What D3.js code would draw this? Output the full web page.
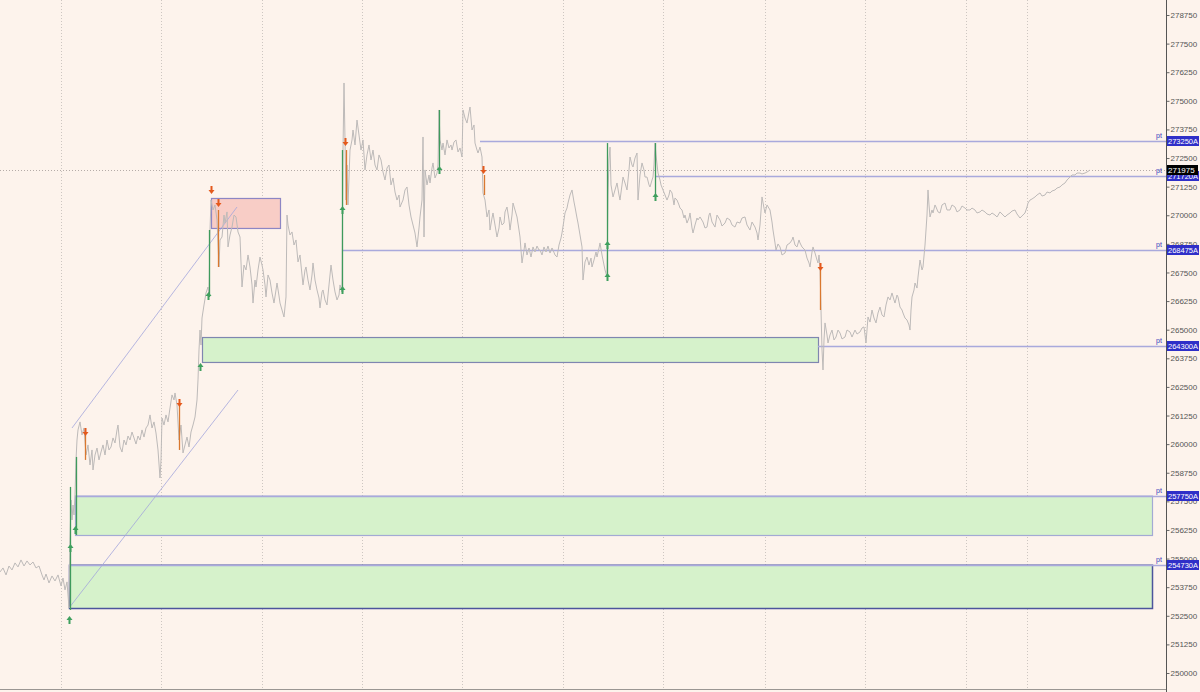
<!DOCTYPE html>
<html>
<head>
<meta charset="utf-8">
<script src="https://cdn.jsdelivr.net/npm/d3@7"></script>
<style>
  html, body { margin: 0; padding: 0; background: #fdf3ec; }
  svg { display: block; }
</style>
</head>
<body>
<div id="chart"></div>
<script>
// bar number, close
const priceSeries = [
  [0,254415],[3,254590],[6,254285],[9,254675],[12,254502],[15,254810],[18,254635],[21,254940],[24,254675],[27,254895],
  [30,254720],[33,254850],[36,254590],[39,254675],[42,254285],[44,254065],[46,254325],[49,253935],[52,254240],[55,254020],
  [58,254285],[61,253805],[63,254150],[65,253630],[67,253980],[69,252840],
  [70,255810],[71,257560],[72,256685],[73,257340],[74,256905],[75,257780],[76,259310],[77,260180],[78,260620],[80,260970],
  [82,260400],[84,260705],[86,259525],[88,259965],[90,259090],[92,259745],[93,258870],[95,259525],[97,259830],[99,259310],
  [101,259655],[103,259965],[105,259525],[107,260180],[109,259745],[111,259875],[113,260270],[115,260050],[117,260620],[118,260835],
  [120,259875],[122,259655],[124,260180],[126,259965],[128,260355],[130,260180],[132,260530],[134,260270],[136,260005],[138,260355],
  [140,260180],[142,260620],[144,260310],[146,260705],[148,260835],[150,261275],[152,260705],[154,260970],[156,260485],[158,259745],
  [160,258520],[161,259310],[162,261140],[164,260835],[166,261275],[168,260970],[170,261580],[172,262150],[174,261930],[175,262235],
  [177,261710],[179,260180],[181,260835],[183,259615],[185,259965],[187,260310],[189,259875],[191,260530],[193,260835],[195,261185],
  [197,261930],[198,262805],[199,264115],[200,264985],[201,264330],[202,265510],[204,266080],[206,266605],[208,266865],[209,266430],
  [210,269355],[211,270665],[213,270230],[215,270450],[217,269795],[219,267740],[220,268920],[222,269050],[224,270010],[225,269660],
  [227,270145],[228,268615],[230,269140],[232,269485],[234,270010],[236,269925],[238,269270],[240,269050],[242,266865],[244,267825],
  [246,267610],[248,268265],[250,267740],[252,266955],[253,266165],[255,267170],[256,266865],[258,267610],[260,268175],[262,267825],
  [263,267610],[265,266955],[266,266430],[268,267390],[270,267170],[272,266605],[274,266165],[276,266735],[277,267040],[279,266475],
  [280,266165],[282,265860],[284,265555],[286,266430],[287,270010],[288,269575],[290,269140],[292,269270],[294,268700],[296,268920],
  [298,267960],[300,268265],[302,267390],[303,266955],[305,267610],[306,267740],[308,267170],[310,266735],[312,267390],[313,267915],
  [315,267170],[317,266735],[319,266385],[320,265950],[322,266650],[323,266735],[325,266300],[327,266080],[329,266955],[331,267825],
  [333,267170],[335,266650],[337,266300],[339,266515],[340,266955],[342,266650],
  [343,272850],[344,275780],[345,273290],[346,270665],[347,272195],[348,270450],[350,272850],[352,273290],[353,273725],[355,273070],
  [357,274160],[359,273505],[361,272850],[363,273290],[365,271980],[367,272635],[369,273070],[371,272415],[373,272850],[375,272195],
  [377,271980],[379,272635],[381,272415],[383,271890],[385,271540],[387,272065],[389,272195],[391,271325],[393,271630],[395,271015],
  [397,270665],[399,270885],[400,270360],[403,270665],[405,271105],[407,271235],[409,270450],[411,269925],[413,269575],[415,269225],
  [417,268615],[419,269445],[420,269925],[422,270665],[423,273420],[424,269050],[425,271980],[427,271325],[429,271760],[430,271410],
  [432,272065],[433,272285],[435,271630],[437,271845],[438,272195],[439,274600],[440,273290],[442,272850],[443,273155],[445,272635],
  [447,273290],[449,272940],[451,273070],[452,272850],[454,273200],[456,273290],[458,272765],[460,272940],[462,272545],[463,274600],
  [465,274250],[467,274030],[469,274510],[470,274730],[472,273725],[474,273945],[475,273155],[477,272850],[478,272720],[480,272980],
  [482,272545],[483,270975],[485,270665],[487,269925],[489,270230],[490,269355],[492,269880],[493,270100],[495,269575],[497,269050],
  [499,269445],[500,269925],[502,269575],[504,269660],[505,270145],[507,270360],[509,269795],[510,269355],[512,270010],[513,270535],
  [515,270230],[517,269925],[519,269355],[520,269050],[521,268480],[522,267915],[524,268480],[525,268790],[527,268265],[529,268570],
  [531,268175],[533,268615],[535,268395],[537,268655],[539,268480],[540,268480],[542,268265],[544,268615],[546,268395],[548,268655],
  [550,268350],[552,268570],[553,268480],[555,268265],[557,268175],[559,268700],[561,269005],[562,269225],[564,269795],[565,270100],
  [567,270315],[568,270535],[570,270885],[572,271105],[574,270580],[575,270360],[577,269880],[578,269660],[580,269140],[582,268615],
  [583,267170],[585,267960],[587,268175],[589,267825],[591,268130],[592,267740],[594,268045],[596,268395],[597,268175],[599,268570],
  [600,268790],[602,268265],[603,268045],[605,267610],[607,267300],[608,270885],[609,272415],[610,272980],[611,271325],[613,270800],
  [615,271105],[617,271410],[619,270885],[620,270665],[622,271325],[623,271670],[625,271410],[627,271105],[629,271980],[630,272545],
  [632,272195],[633,272110],[635,272500],[637,272720],[638,270665],[640,271760],[642,272285],[644,271980],[645,271670],[647,271670],
  [649,271325],[650,271235],[652,271540],[653,271670],[654,272195],[655,273155],[656,272635],[658,271845],[660,271540],[661,271325],
  [663,271105],[665,270885],[667,270665],[669,270885],[670,271105],[672,270975],[674,270450],[675,270755],[677,270665],[679,270450],
  [680,270315],[682,270230],[684,269880],[685,270010],[687,269660],[689,269880],[690,270100],[692,269445],[693,269225],[695,269575],
  [697,269880],[698,269795],[700,269925],[703,269705],[705,269445],[707,269485],[709,270010],[710,270100],[712,269705],[715,269485],
  [717,270010],[720,269795],[722,269530],[725,269660],[727,269880],[730,269795],[732,269575],[735,269485],[737,269705],[740,269660],
  [742,269880],[745,269925],[747,269575],[750,269355],[752,269705],[755,269485],[757,269225],[758,268920],[760,269575],[762,270800],
  [764,270315],[765,270100],[767,270450],[770,270230],[772,269705],[773,269355],[775,268790],[776,268480],[778,268745],[780,268615],
  [782,268265],[785,268350],[787,268700],[790,268790],[792,268920],[793,269050],[795,268700],[797,268615],[799,268920],[800,268790],
  [802,268615],[805,268480],[807,268130],[809,267915],[810,267740],[812,268395],[813,268615],[815,268350],[817,268045],[818,267915],
  [819,268265],[820,267740],[821,265860],[822,264115],[823,263240],[824,264550],[825,265295],[827,264770],[828,264420],[830,264770],
  [832,264985],[834,264550],[836,264680],[838,264985],[840,264855],[842,264595],[845,264680],[847,264985],[850,264900],[852,264680],
  [855,264985],[857,264810],[860,264900],[862,265075],[864,265120],[866,264420],[868,265555],[870,265335],[872,265860],[874,265510],
  [876,265295],[878,265730],[880,265990],[882,265645],[884,265555],[886,266080],[888,266430],[890,266300],[892,266605],[894,266300],
  [895,266165],[897,266515],[898,266430],[900,265990],[902,265860],[903,265730],[905,265510],[907,265425],[909,265205],[910,264985],
  [911,265860],[912,266430],[914,266735],[915,267040],[917,266820],[918,267300],[920,268045],[922,267610],[923,267740],[925,268700],
  [926,269355],[927,270010],[928,271105],[929,270450],[930,269925],[932,270230],[933,270100],[935,270450],[936,270360],[938,270145],
  [940,270100],[942,270450],[945,270535],[947,270230],[950,270230],[952,270450],[955,270360],[957,270145],[960,270230],[962,270405],
  [965,270315],[967,270230],[970,270230],[972,270315],[975,270230],[977,270100],[980,270145],[982,270230],[985,270145],[987,270055],
  [990,270010],[992,270100],[995,270010],[997,269925],[1000,270145],[1002,270055],[1005,269925],[1007,270010],[1010,270100],[1012,270185],
  [1015,270230],[1017,270055],[1020,269880],[1022,269970],[1025,270100],[1027,270360],[1028,270535],[1030,270665],[1032,270710],[1035,270800],
  [1037,270885],[1040,270975],[1042,270840],[1045,270885],[1047,271015],[1050,270975],[1052,271060],[1055,271105],[1057,271190],[1060,271235],
  [1062,271325],[1065,271410],[1067,271540],[1070,271670],[1072,271760],[1075,271760],[1077,271845],[1080,271845],[1082,271805],[1085,271845],
  [1087,271890],[1090,271975]
];

const lastPrice = 271975;
const yTicks = [250000,251250,252500,253750,255000,256250,257500,258750,260000,261250,262500,263750,
  265000,266250,267500,268750,270000,271250,272500,273750,275000,276250,277500,278750];
const sessionBars = [61,161,262,362,462,563,663,765,865,966,1027];

// horizontal levels
const levelPrices = [273250, 271720, 268475, 264300, 257750, 254730];
const levelStart  = [480, 655, 342, 818, 75, 69];
const levelLabels = ["273250A", "271720A", "268475A", "264300A", "257750A", "254730A"];

// zones: [startBar, endBar, top, bottom]
const demandZones = [[202, 818, 264680, 263590], [75, 1152, 257750, 256030], [69, 1152, 254730, 252840]];
const supplyZones = [[211, 280, 270755, 269445]];

// trend lines: [bar1, price1, bar2, price2]
const trendLines = [[69, 252840, 238, 262365], [72, 260705, 237, 270360]];

// signals
const buyArrows  = [[69,252320],[70,255460],[75,256250],[200,263370],[208,266475],[342,266735],[342,270230],[439,271980],[607,268700],[607,267300],[655,270800]];
const sellArrows = [[85,260530],[179,261800],[211,271105],[218,270535],[345,273200],[483,271980],[820,267740]];
const buyMoves  = [[70,252755,258130],[76,256030,259440],[209,266430,269355],[342,266650,272850],[439,272110,274600],[607,267300,273155],[655,270800,273155]];
const sellMoves = [[85,260400,259310],[179,261710,259745],[218,270230,267740],[346,272850,270450],[484,271760,270885],[820,267610,265860]];

const W = 1200, H = 692, axisX = 1166, bottomY = 689;
const labelFont = "Liberation Sans, Arial, sans-serif";

const svg = d3.select("#chart").append("svg")
    .attr("width", W).attr("height", H)
    .style("background", "#fdf3ec");

let x = d3.scaleLinear().domain([0, 1166]).range([0, axisX]);
let y = d3.scaleLinear().domain([250000, 278750]).range([673, 15]);

// session gridlines
svg.append("g").selectAll("line")
    .data(sessionBars)
    .enter().append("line")
    .attr("x1", d => x(d) + 0.5).attr("x2", d => x(d) + 0.5)
    .attr("y1", 0).attr("y2", bottomY)
    .attr("stroke", "#cdc6c1")
    .attr("stroke-width", 1)
    .attr("stroke-dasharray", "1,2");

// zones
svg.append("g").selectAll("rect")
    .data(demandZones)
    .enter().append("rect")
    .attr("x", d => x(d[0]) + 0.5)
    .attr("y", d => y(d[2]) + 0.5)
    .attr("width", d => x(d[1]) - x(d[0]))
    .attr("height", d => y(d[3]) - y(d[2]))
    .attr("fill", "#d6f2cb")
    .attr("stroke", (d, i) => ["#7f86b0", "#a3aad4", "#4c559c"][i])
    .attr("stroke-width", (d, i) => i == 2 ? 1.5 : 1.2);

svg.append("g").selectAll("rect")
    .data(supplyZones)
    .enter().append("rect")
    .attr("x", d => x(d[0]) + 0.5)
    .attr("y", d => y(d[2]) + 0.5)
    .attr("width", d => x(d[1]) - x(d[0]))
    .attr("height", d => y(d[3]) - y(d[2]))
    .attr("fill", "#f8cdc6")
    .attr("stroke", "#8d86c4")
    .attr("stroke-width", 1.2);

// level lines
svg.append("g").selectAll("line")
    .data(levelPrices)
    .enter().append("line")
    .attr("x1", (d, i) => x(levelStart[i]))
    .attr("x2", axisX)
    .attr("y1", d => Math.round(y(d)) + 0.5)
    .attr("y2", d => Math.round(y(d)) + 0.5)
    .attr("stroke", "#a9a9dc")
    .attr("stroke-width", 1.5);

// trend lines
svg.append("g").selectAll("line")
    .data(trendLines)
    .enter().append("line")
    .attr("x1", d => x(d[0])).attr("y1", d => y(d[1]))
    .attr("x2", d => x(d[2])).attr("y2", d => y(d[3]))
    .attr("stroke", "#a3a6dc")
    .attr("stroke-width", 0.8);

// last price dotted line
svg.append("line")
    .attr("x1", 0).attr("x2", axisX)
    .attr("y1", Math.round(y(lastPrice)) + 0.5)
    .attr("y2", Math.round(y(lastPrice)) + 0.5)
    .attr("stroke", "#b5aca8")
    .attr("stroke-dasharray", "1,2");

// price line
let line = d3.line()
    .x(d => x(d[0]))
    .y(d => y(d[1]));

svg.append("path")
    .datum(priceSeries)
    .attr("fill", "none")
    .attr("stroke", "#bdbab9")
    .attr("stroke-width", 1)
    .attr("d", line);

// signal moves
svg.append("g").selectAll("line")
    .data(buyMoves)
    .enter().append("line")
    .attr("x1", d => x(d[0]) + 0.5).attr("x2", d => x(d[0]) + 0.5)
    .attr("y1", d => y(d[1])).attr("y2", d => y(d[2]))
    .attr("stroke", "#3e9a5c")
    .attr("stroke-width", 1.3);

svg.append("g").selectAll("line")
    .data(sellMoves)
    .enter().append("line")
    .attr("x1", d => x(d[0]) + 0.5).attr("x2", d => x(d[0]) + 0.5)
    .attr("y1", d => y(d[1])).attr("y2", d => y(d[2]))
    .attr("stroke", "#d9782f")
    .attr("stroke-width", 1.3);

function upArrow(cx, cy) {
    return `M${cx-1},${cy+4} L${cx-1},${cy} L${cx-3},${cy} L${cx},${cy-4} L${cx+3},${cy} L${cx+1},${cy} L${cx+1},${cy+4} Z`;
}
function downArrow(cx, cy) {
    return `M${cx-1},${cy-4} L${cx-1},${cy} L${cx-3},${cy} L${cx},${cy+4} L${cx+3},${cy} L${cx+1},${cy} L${cx+1},${cy-4} Z`;
}

svg.append("g").selectAll("path")
    .data(buyArrows)
    .enter().append("path")
    .attr("d", d => upArrow(x(d[0]) + 0.5, y(d[1])))
    .attr("fill", "#3fa05e");

svg.append("g").selectAll("path")
    .data(sellArrows)
    .enter().append("path")
    .attr("d", d => downArrow(x(d[0]) + 0.5, y(d[1])))
    .attr("fill", "#e4591c");

// bottom border
svg.append("line")
    .attr("x1", 0).attr("x2", axisX)
    .attr("y1", bottomY + 0.5).attr("y2", bottomY + 0.5)
    .attr("stroke", "#9a9693");

// right axis
let yAxis = d3.axisRight(y)
    .tickValues(yTicks)
    .tickSize(3)
    .tickPadding(1)
    .tickFormat(d3.format("d"));

let axisG = svg.append("g")
    .attr("transform", "translate(" + (axisX + 0.5) + ",0)")
    .call(yAxis);
axisG.select(".domain").remove();
axisG.selectAll(".tick line").attr("stroke", "#666");
axisG.selectAll(".tick text")
    .attr("fill", "#555")
    .style("font-family", labelFont)
    .style("font-size", "8px");

svg.append("line")
    .attr("x1", axisX + 0.5).attr("x2", axisX + 0.5)
    .attr("y1", 0).attr("y2", H)
    .attr("stroke", "#555")
    .attr("stroke-width", 1);

// level tags
let tags = svg.append("g");
levelPrices.forEach((p, i) => {
    let cy = Math.round(y(p));
    tags.append("rect")
        .attr("x", axisX + 1).attr("y", cy - 5)
        .attr("width", 32).attr("height", 10)
        .attr("fill", "#2f2fc8");
    tags.append("text")
        .attr("x", axisX + 2).attr("y", cy + 3)
        .attr("fill", "#ffffff")
        .style("font-family", labelFont)
        .style("font-size", "7.5px")
        .text(levelLabels[i]);
    tags.append("text")
        .attr("x", axisX - 10).attr("y", cy - 3)
        .attr("fill", "#3535bb")
        .style("font-family", labelFont)
        .style("font-size", "7px")
        .text("pt");
});

// last price tag
let lpY = Math.round(y(lastPrice));
svg.append("rect")
    .attr("x", axisX + 1).attr("y", lpY - 5)
    .attr("width", 31).attr("height", 10)
    .attr("fill", "#000");
svg.append("text")
    .attr("x", axisX + 2).attr("y", lpY + 3)
    .attr("fill", "#fff")
    .style("font-family", labelFont)
    .style("font-size", "8px")
    .text(d3.format("d")(lastPrice));
</script>
</body>
</html>
